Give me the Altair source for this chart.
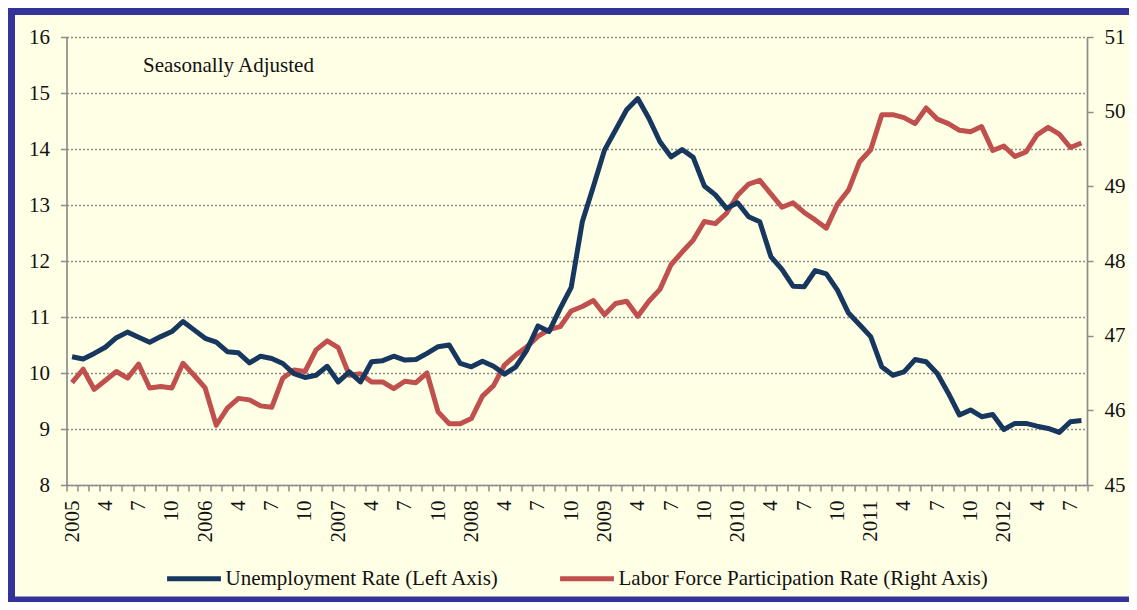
import altair as alt
import pandas as pd

# ---- data (monthly, Jan 2005 - Aug 2012) ----
unemployment = [
    10.29, 10.25, 10.35, 10.46, 10.63, 10.73, 10.64, 10.55, 10.65, 10.74, 10.92, 10.77,
    10.62, 10.55, 10.38, 10.36, 10.18, 10.30, 10.26, 10.17, 9.99, 9.92, 9.96, 10.12,
    9.84, 10.02, 9.84, 10.20, 10.22, 10.30, 10.23, 10.24, 10.35, 10.47, 10.50, 10.17,
    10.11, 10.21, 10.12, 9.98, 10.11, 10.41, 10.84, 10.74, 11.15, 11.53, 12.70, 13.33,
    13.98, 14.34, 14.70, 14.90, 14.55, 14.13, 13.86, 13.99, 13.85, 13.34, 13.18, 12.94,
    13.04, 12.79, 12.70, 12.08, 11.85, 11.55, 11.54, 11.83, 11.77, 11.48, 11.07, 10.86,
    10.65, 10.11, 9.96, 10.02, 10.24, 10.20, 9.99, 9.64, 9.25, 9.34, 9.22, 9.26,
    8.99, 9.10, 9.10, 9.05, 9.01, 8.94, 9.13, 9.15,
]
participation = [
    46.37, 46.55, 46.28, 46.40, 46.52, 46.43, 46.62, 46.30, 46.32, 46.30, 46.63, 46.47,
    46.30, 45.80, 46.03, 46.16, 46.14, 46.06, 46.04, 46.43, 46.54, 46.52, 46.81, 46.93,
    46.84, 46.47, 46.49, 46.38, 46.38, 46.29, 46.39, 46.37, 46.50, 45.98, 45.82, 45.82,
    45.89, 46.19, 46.33, 46.61, 46.74, 46.85, 46.99, 47.08, 47.12, 47.33, 47.39, 47.47,
    47.28, 47.43, 47.46, 47.26, 47.46, 47.62, 47.95, 48.12, 48.28, 48.53, 48.50, 48.64,
    48.88, 49.03, 49.08, 48.90, 48.72, 48.78, 48.65, 48.55, 48.44, 48.76, 48.95, 49.33,
    49.49, 49.96, 49.96, 49.92, 49.84, 50.05, 49.90, 49.84, 49.75, 49.73, 49.80, 49.48,
    49.54, 49.40, 49.46, 49.69, 49.79, 49.70, 49.52, 49.58,
]
tick_labels = []
for yr in range(2005, 2013):
    tick_labels += [str(yr), "4", "7", "10"]
tick_labels = tick_labels[:31]
series_names = ["Unemployment Rate (Left Axis)", "Labor Force Participation Rate (Right Axis)"]
series_colors = ["#17375E", "#C0504D"]
note = ["Seasonally Adjusted"]

n = len(unemployment)
df = pd.DataFrame({
    "m": [i + 0.5 for i in range(n)],
    "u": unemployment,
    "l": participation,
    "su": [series_names[0]] * n,
    "sl": [series_names[1]] * n,
})

FONT = "Liberation Serif"
FS = 21
GRAY = "#8c8c8c"
W, H = 1020.5, 448
PAD = {"left": 58.5, "top": 29, "right": 42, "bottom": 117}

xscale = alt.Scale(domain=[0, n], nice=False, zero=False)
color_scale = alt.Scale(domain=series_names, range=series_colors)
legend = alt.Legend(
    orient="none", legendX=98, legendY=512, direction="horizontal", title=None,
    symbolType="stroke", symbolSize=2900, symbolStrokeWidth=5, labelFont=FONT,
    labelFontSize=FS, labelColor="#111111", columnPadding=50, labelOffset=2,
    padding=0, labelLimit=800,
)

label_expr = "[" + ",".join("'" + t + "'" for t in tick_labels) + "][round((datum.value - 0.5) / 3)]"

red = alt.Chart(df).mark_line(strokeWidth=5, strokeJoin="round").encode(
    x=alt.X("m:Q", scale=xscale, axis=alt.Axis(
        orient="bottom", values=[i * 3 + 0.5 for i in range(len(tick_labels))],
        labelExpr=label_expr, labelAngle=270, labelFont=FONT, labelFontSize=FS,
        labelColor="#111111", ticks=False, domain=False, grid=False, title=None,
        labelPadding=15, labelOverlap=False, labelFlush=False)),
    y=alt.Y("l:Q", scale=alt.Scale(domain=[45, 51], nice=False, zero=False), axis=alt.Axis(
        orient="right", values=list(range(45, 52)), grid=False, title=None,
        labelFont=FONT, labelFontSize=FS, labelColor="#111111", tickSize=6,
        tickColor=GRAY, tickWidth=1.5, domainColor=GRAY, domainWidth=1.7, labelPadding=11)),
    color=alt.Color("sl:N", scale=color_scale, legend=legend),
)

blue = alt.Chart(df).mark_line(strokeWidth=5, strokeJoin="round").encode(
    x=alt.X("m:Q", scale=xscale, axis=alt.Axis(
        orient="bottom", values=list(range(n + 1)), labels=False, ticks=True,
        tickSize=6, tickColor=GRAY, tickWidth=1.5, domainColor=GRAY, domainWidth=1.7,
        grid=False, title=None)),
    y=alt.Y("u:Q", scale=alt.Scale(domain=[8, 16], nice=False, zero=False), axis=alt.Axis(
        orient="left", values=list(range(8, 17)), grid=True, gridColor=GRAY,
        gridDash=[2, 2], gridWidth=1.3, title=None, labelFont=FONT, labelFontSize=FS,
        labelColor="#111111", tickSize=6, tickColor=GRAY, tickWidth=1.5,
        domainColor=GRAY, domainWidth=1.7, labelPadding=11)),
    color=alt.Color("su:N", scale=color_scale, legend=legend),
)

text = alt.Chart(pd.DataFrame({"t": note})).mark_text(
    font=FONT, fontSize=FS, align="left", baseline="middle", color="#111111"
).encode(text="t:N", x=alt.value(76.5), y=alt.value(29))

# blue frame: left, top and bottom edges visible; right edge falls outside the canvas
frame = alt.Chart(pd.DataFrame({"a": [0]})).mark_rect(
    filled=False, stroke="#333399", strokeWidth=7
).encode(
    x=alt.value(-PAD["left"] + 3.5), x2=alt.value(W + PAD["right"] + 20),
    y=alt.value(-PAD["top"] + 3.5), y2=alt.value(H + PAD["bottom"] - 2),
)

chart = alt.layer(red, blue, text, frame).resolve_scale(
    y="independent", x="shared", color="shared"
).resolve_axis(x="independent", y="independent").properties(
    width=W, height=H, padding=PAD, autosize=alt.AutoSizeParams(type="none"),
    background="#FFFFE6",
).configure_view(stroke=None)

chart.save("out.html", embed_options={"renderer": "svg", "actions": False})
